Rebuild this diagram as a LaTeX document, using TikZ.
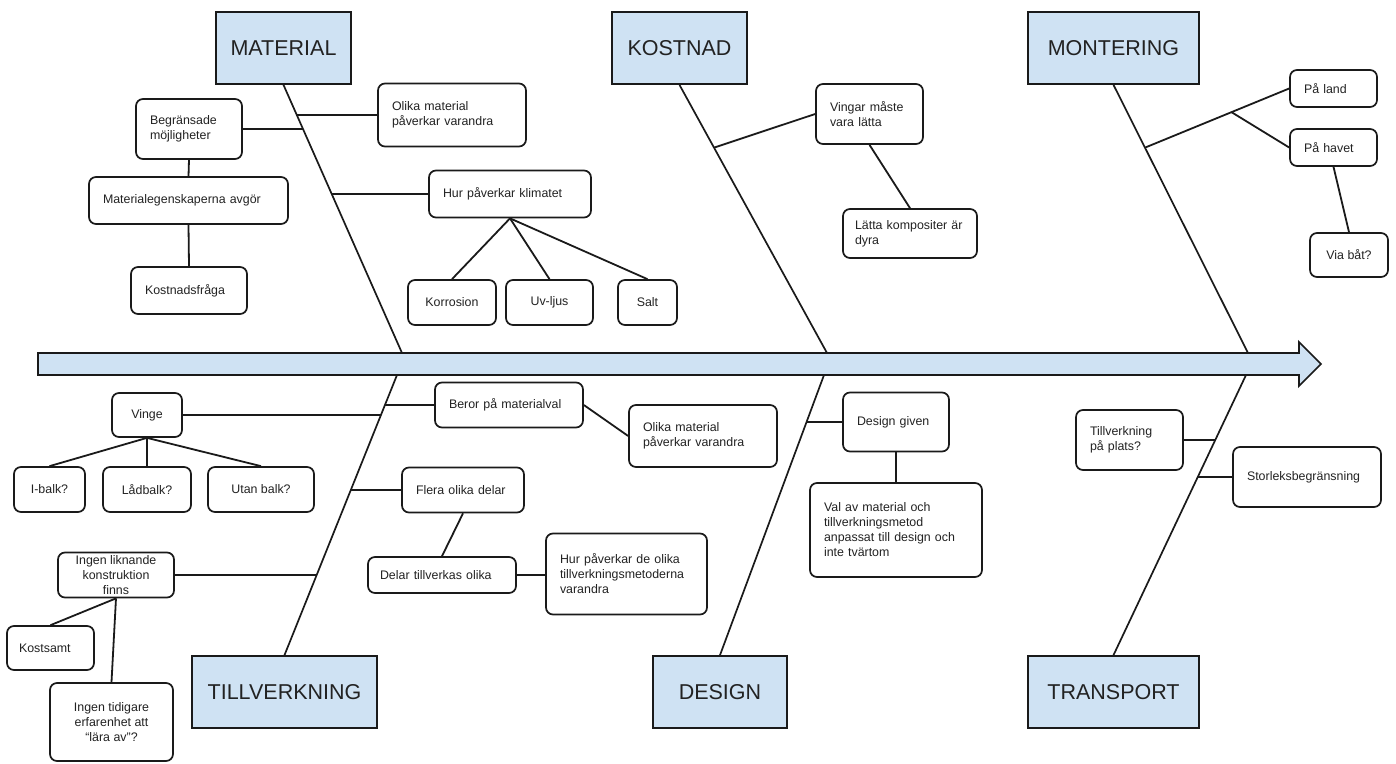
\documentclass[tikz,border=0pt]{standalone}
\usepackage{fontspec}
\setmainfont{Liberation Sans}
\usepackage{xcolor}
\definecolor{cHead}{HTML}{CFE2F3}
\definecolor{cLine}{HTML}{1A1A1A}
\definecolor{cText}{HTML}{222222}
\usetikzlibrary{positioning,calc}
\tikzset{
  head-box/.style={draw=cLine,line width=1.8pt,fill=cHead,inner sep=0pt,
    minimum height=72pt,text=cText,font=\fontsize{21.5}{24}\selectfont},
  cause-box/.style={draw=cLine,line width=1.7pt,rounded corners=7pt,fill=white,
    inner xsep=14pt,inner ysep=0pt,align=left,text=cText,
    font=\fontsize{12.4}{15}\selectfont},
  cause-mid/.style={cause-box,inner xsep=2pt,align=center},
  spine/.style={draw=cLine,line width=1.7pt},
  link/.style={draw=cLine,line width=1.8pt},
  axis-arrow/.style={draw=cLine,line width=1.7pt,fill=cHead,line join=miter},
}

\begin{document}
\begin{tikzpicture}[x=1pt,y=-1pt]
  \useasboundingbox (0,0) rectangle (1396,763);

  % huvudorsaker
  \node[head-box,minimum width=135pt] (matHead) at (283.5,48)  {MATERIAL};
  \node[head-box,minimum width=135pt] (kosHead) at (679.5,48)  {KOSTNAD};
  \node[head-box,minimum width=171pt] (monHead) at (1113.5,48) {MONTERING};
  \node[head-box,minimum width=185pt] (tilHead) at (284.5,692) {TILLVERKNING};
  \node[head-box,minimum width=134pt] (desHead) at (720,692)   {DESIGN};
  \node[head-box,minimum width=171pt] (traHead) at (1113.5,692) {TRANSPORT};

  \coordinate (matAxis) at (402,353);
  \coordinate (kosAxis) at (827,353);
  \coordinate (monAxis) at (1248,353);
  \coordinate (tilAxis) at (397,375);
  \coordinate (desAxis) at (824,375);
  \coordinate (traAxis) at (1246,375);

  % ben
  \draw[spine] (matHead.south) -- coordinate[pos=0.113] (matJ1)
    coordinate[pos=0.167] (matJ2) coordinate[pos=0.407] (matJ3) (matAxis);
  \draw[spine] (kosHead.south) -- coordinate[pos=0.234] (kosJ1) (kosAxis);
  \draw[spine] (monHead.south) -- coordinate[pos=0.234] (monJ1) (monAxis);
  \draw[spine] (tilAxis) -- coordinate[pos=0.105] (tilJ1)
    coordinate[pos=0.142] (tilJ2) coordinate[pos=0.407] (tilJ3)
    coordinate[pos=0.71] (tilJ4) (tilHead.north);
  \draw[spine] (desAxis) -- coordinate[pos=0.165] (desJ1) (desHead.north);
  \draw[spine] (traAxis) -- coordinate[pos=0.231] (traJ1)
    coordinate[pos=0.363] (traJ2) (traHead.north);

  % huvudpil
  \draw[axis-arrow] (38,353) -- (1299,353) -- (1299,342) -- (1321,364)
    -- (1299,386) -- (1299,375) -- (38,375) -- cycle;

  % MATERIAL
  \node[cause-box,text width=120pt,minimum height=63pt] (olikaA) at (452,115)
    {Olika material\\påverkar varandra};
  \node[cause-box,text width=78pt,minimum height=60pt] (begr) at (189,129)
    {Begränsade\\möjligheter};
  \node[cause-box,text width=171pt,minimum height=47pt] (matEg) at (188.5,200.5)
    {Materialegenskaperna avgör};
  \node[cause-box,text width=88pt,minimum height=47pt] (kostFr) at (189,290.5)
    {Kostnadsfråga};
  \node[cause-box,text width=134pt,minimum height=47pt] (klimat) at (510,194)
    {Hur påverkar klimatet};
  \node[cause-mid,minimum width=88pt,minimum height=45pt] (korr) at (452,302.5) {Korrosion};
  \node[cause-mid,minimum width=87pt,minimum height=45pt] (uvljus) at (549.5,302.5) {Uv-ljus};
  \node[cause-mid,minimum width=59pt,minimum height=45pt] (salt) at (647.5,302.5) {Salt};
  \draw[link] (olikaA.west) -- (olikaA.west -| matJ1);
  \draw[link] (begr.east) -- (begr.east -| matJ2);
  \draw[link] (klimat.west) -- (klimat.west -| matJ3);
  \draw[link] (begr.south) -- (matEg.north);
  \draw[link] (matEg.south) -- (kostFr.north);
  \foreach \leaf in {korr,uvljus,salt}
    \draw[link] (klimat.south) -- (\leaf.north);

  % KOSTNAD
  \node[cause-box,text width=79pt,minimum height=60pt] (vingar) at (869.5,114)
    {Vingar måste\\vara lätta};
  \node[cause-box,inner xsep=12pt,text width=110pt,minimum height=49pt] (latta) at (910,233.5)
    {Lätta kompositer är\\dyra};
  \draw[link] (kosJ1) -- (vingar.west);
  \draw[link] (vingar.south) -- (latta.north);

  % MONTERING
  \node[cause-box,text width=59pt,minimum height=37pt] (paLand) at (1333.5,88.5) {På land};
  \node[cause-box,text width=59pt,minimum height=37pt] (paHavet) at (1333.5,147.5) {På havet};
  \node[cause-mid,minimum width=78pt,minimum height=44pt] (viaBat) at (1349,255) {Via båt?};
  \draw[link] (monJ1) -- coordinate[pos=0.6] (monK) (paLand.west);
  \draw[link] (monK) -- (paHavet.west);
  \draw[link] (paHavet.south) -- (viaBat.north);

  % TILLVERKNING
  \node[cause-mid,minimum width=70pt,minimum height=44pt] (vinge) at (147,415) {Vinge};
  \node[cause-mid,minimum width=71pt,minimum height=45pt] (iBalk) at (49.5,489.5) {I-balk?};
  \node[cause-mid,minimum width=88pt,minimum height=45pt] (ladBalk) at (147,489.5) {Lådbalk?};
  \node[cause-mid,minimum width=106pt,minimum height=45pt] (utanBalk) at (261,489.5) {Utan balk?};
  \node[cause-box,text width=120pt,minimum height=45pt] (beror) at (509,405)
    {Beror på materialval};
  \node[cause-box,text width=120pt,minimum height=62pt] (olikaB) at (703,436)
    {Olika material\\påverkar varandra};
  \node[cause-box,text width=94pt,minimum height=45pt] (flera) at (463,490)
    {Flera olika delar};
  \node[cause-box,inner xsep=12pt,text width=124pt,minimum height=36pt] (delar) at (442,575)
    {Delar tillverkas olika};
  \node[cause-box,text width=133pt,minimum height=81pt] (hurMet) at (626.5,574)
    {Hur påverkar de olika\\tillverkningsmetoderna\\varandra};
  \node[cause-mid,minimum width=116pt,minimum height=45pt] (ingenLik) at (116,575)
    {Ingen liknande\\konstruktion\\finns};
  \node[cause-box,inner xsep=12pt,text width=63pt,minimum height=44pt] (kostsamt) at (50.5,648)
    {Kostsamt};
  \node[cause-mid,minimum width=123pt,minimum height=78pt] (ingenTid) at (111.5,722)
    {Ingen tidigare\\erfarenhet att\\“lära av”?};
  \draw[link] (vinge.east) -- (vinge.east -| tilJ2);
  \foreach \leaf in {iBalk,ladBalk,utanBalk}
    \draw[link] (vinge.south) -- (\leaf.north);
  \draw[link] (beror.west) -- (beror.west -| tilJ1);
  \draw[link] (beror.east) -- (olikaB.west);
  \draw[link] (flera.west) -- (flera.west -| tilJ3);
  \draw[link] (flera.south) -- (delar.north);
  \draw[link] (delar.east) -- (delar.east -| hurMet.west);
  \draw[link] (ingenLik.east) -- (ingenLik.east -| tilJ4);
  \draw[link] (ingenLik.south) -- (kostsamt.north);
  \draw[link] (ingenLik.south) -- (ingenTid.north);

  % DESIGN
  \node[cause-box,text width=78pt,minimum height=59pt] (desGiven) at (896,422)
    {Design given};
  \node[cause-box,text width=144pt,minimum height=94pt] (valAv) at (896,530)
    {Val av material och\\tillverkningsmetod\\anpassat till design och\\inte tvärtom};
  \draw[link] (desGiven.west) -- (desGiven.west -| desJ1);
  \draw[link] (desGiven.south) -- (valAv.north);

  % TRANSPORT
  \node[cause-box,text width=79pt,minimum height=60pt] (tillvPlats) at (1129.5,440)
    {Tillverkning\\på plats?};
  \node[cause-box,text width=120pt,minimum height=60pt] (storl) at (1307,477)
    {Storleksbegränsning};
  \draw[link] (tillvPlats.east) -- (tillvPlats.east -| traJ1);
  \draw[link] (storl.west) -- (storl.west -| traJ2);
\end{tikzpicture}
\end{document}
